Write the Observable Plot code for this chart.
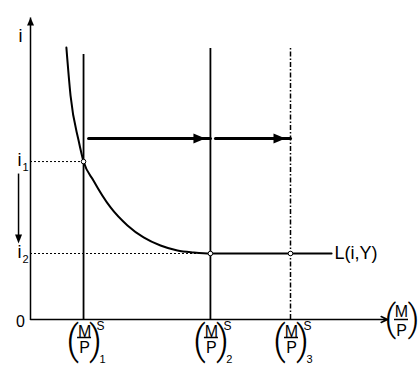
<!DOCTYPE html>
<html>
<head>
<meta charset="utf-8">
<script src="https://cdn.jsdelivr.net/npm/d3@7"></script>
<script src="https://cdn.jsdelivr.net/npm/@observablehq/plot@0.6"></script>
<style>
  html, body { margin: 0; padding: 0; background: white; }
</style>
</head>
<body>
<div id="chart"></div>
<script>
// Real money supply levels (M/P)^S_1, _2, _3
const supplySubs = ["1", "2", "3"];
const moneySupply = [2.04, 6.92, 10.0];
// Interest rates i1, i2
const rateSubs = ["1", "2"];
const rates = [10.53, 4.4];
// Money demand curve L(i,Y)
const curveX = [1.38, 1.54, 1.85, 2.04, 2.42, 3.08, 3.73, 4.35, 5.0, 5.65, 6.27, 6.92, 11.58];
const curveY = [18.13, 14.93, 11.93, 10.53, 9.27, 7.47, 6.27, 5.47, 4.93, 4.6, 4.47, 4.4, 4.4];
const curveLabel = "L(i,Y)";
// axis extents
const xMax = 13.73, yMax = 20.13;
const shiftLevel = 12.07;          // height of the shift arrows
const lineTops = [17.67, 18.07, 18.07];

const curve = curveX.map((x, i) => ({x, y: curveY[i]}));
const shifts = [{from: moneySupply[0], to: moneySupply[1], inEnd: 5}, {from: moneySupply[1], to: moneySupply[2], inEnd: 3}];
const font = "Liberation Sans, Arial, Helvetica, sans-serif";
const parenFont = "Roboto, Liberation Sans, sans-serif";

// filled arrowheads as custom symbols; the tip sits on the dot's position
function head(dir, h, w) {
  return {draw(ctx) {
    const pts = {
      right: [[0, 0], [-h, -w / 2], [-h, w / 2]],
      up: [[0, 0], [-w / 2, h], [w / 2, h]],
      down: [[0, 0], [-w / 2, -h], [w / 2, -h]]
    }[dir];
    ctx.moveTo(...pts[0]); ctx.lineTo(...pts[1]); ctx.lineTo(...pts[2]); ctx.closePath();
  }};
}

function fracLabel(xs, ys, subs, sup, o) {
  const data = xs.map((x, i) => ({x, y: ys[i], sub: subs ? subs[i] : ""}));
  const marks = [
    Plot.text(data, {x: "x", y: "y", text: () => "(", dx: o.lp, dy: o.pc, fontSize: o.pf, fontFamily: parenFont, fontWeight: 300, lineAnchor: "middle"}),
    Plot.text(data, {x: "x", y: "y", text: () => ")", dx: o.rp, dy: o.pc, fontSize: o.pf, fontFamily: parenFont, fontWeight: 300, lineAnchor: "middle"}),
    Plot.text(data, {x: "x", y: "y", text: () => "M", dx: o.mx, dy: o.my, fontSize: 16, fontFamily: font, lineAnchor: "middle"}),
    Plot.text(data, {x: "x", y: "y", text: () => "P", dx: o.mx, dy: o.py, fontSize: 16, fontFamily: font, lineAnchor: "middle"}),
    Plot.ruleY(data, {y: "y", x1: d => d.x - o.bw, x2: d => d.x + o.bw, dx: o.mx, dy: o.by, strokeWidth: 1.5})
  ];
  if (sup) {
    marks.push(Plot.text(data, {x: "x", y: "y", text: () => "S", dx: o.sx, dy: o.sy, fontSize: 12, fontFamily: font, lineAnchor: "middle"}));
    marks.push(Plot.text(data, {x: "x", y: "y", text: "sub", dx: o.bx, dy: o.bby, fontSize: 11, fontFamily: font, lineAnchor: "middle"}));
  }
  return marks;
}

const chart = Plot.plot({
  width: 419,
  height: 369,
  marginLeft: 30,
  marginRight: 0,
  marginTop: 0,
  marginBottom: 50,
  x: {domain: [0, 389 / 26], axis: null},
  y: {domain: [0, 319 / 15], axis: null},
  style: {background: "white", fontFamily: font, color: "black", overflow: "visible"},
  marks: [
    // dotted guides from the axis
    Plot.ruleY(rates, {y: d => d, x1: 0, x2: (d, i) => moneySupply[i], strokeDasharray: "2,2", strokeWidth: 1}),
    // money supply verticals
    Plot.ruleX(moneySupply.slice(0, 2), {x: d => d, y1: 0, y2: (d, i) => lineTops[i], strokeWidth: 1.8}),
    Plot.ruleX(moneySupply.slice(2), {x: d => d, y1: 0, y2: lineTops[2], strokeWidth: 1.5, strokeDasharray: "5,2,1.5,2"}),
    // money demand curve
    Plot.line(curve, {x: "x", y: "y", strokeWidth: 2, curve: "monotone-x"}),
    // shift arrows: shafts and filled heads
    Plot.arrow(shifts, {x1: "from", x2: "to", y1: shiftLevel, y2: shiftLevel, insetStart: 5, insetEnd: d => d.inEnd + 8, strokeWidth: 3, headLength: 0}),
    Plot.dot(shifts, {x: "to", y: shiftLevel, dx: -5, symbol: head("right", 12, 10), r: 5, fill: "black", stroke: "none"}),
    // axes
    Plot.link([0], {x1: 0, y1: 0, x2: 0, y2: yMax, strokeWidth: 1.5}),
    Plot.dot([0], {x: 0, y: yMax, symbol: head("up", 8, 7), r: 4, fill: "black", stroke: "none"}),
    Plot.arrow([0], {x1: 0, y1: 0, x2: xMax, y2: 0, strokeWidth: 1.5, headLength: 7, headAngle: 50}),
    // falling interest rate arrow
    Plot.link([0], {x1: -0.46, y1: 9.73, x2: -0.46, y2: 5.5, strokeWidth: 1.5}),
    Plot.dot([0], {x: -0.46, y: 5.07, symbol: head("down", 9, 7), r: 4, fill: "black", stroke: "none"}),
    // equilibrium points
    Plot.dot([{x: moneySupply[0], y: rates[0]}, {x: moneySupply[1], y: rates[1]}, {x: moneySupply[2], y: rates[1]}],
      {x: "x", y: "y", r: 2.3, fill: "white", stroke: "black", strokeWidth: 1}),
    // axis labels
    Plot.text([0], {x: 0, y: yMax, text: () => "i", dx: -10, dy: 19, fontSize: 18, lineAnchor: "middle"}),
    Plot.text([0], {x: 0, y: 0, text: () => "0", dx: -10, dy: 2, fontSize: 16, lineAnchor: "middle"}),
    Plot.text(rates, {x: 0, y: d => d, text: () => "i", dx: -11, dy: -1, fontSize: 18, lineAnchor: "middle"}),
    Plot.text(rates, {x: 0, y: d => d, text: (d, i) => rateSubs[i], dx: -5, dy: 6, fontSize: 11, lineAnchor: "middle"}),
    Plot.text([curveLabel], {x: curveX[curveX.length - 1], y: curveY[curveY.length - 1], text: d => d, dx: 3, dy: 0, fontSize: 18, textAnchor: "start", lineAnchor: "middle"}),
    ...fracLabel(moneySupply, moneySupply.map(() => 0), supplySubs, true,
      {lp: -11, rp: 12, pc: 22, pf: 40, mx: 1, my: 12, py: 28, bw: 7 / 26, by: 18, sx: 17, sy: 7, bx: 19, bby: 40}),
    ...fracLabel([xMax], [0], null, false,
      {lp: 3, rp: 26, pc: 0, pf: 37, mx: 14, my: -8, py: 11, bw: 7 / 26, by: 0})
  ]
});
document.getElementById("chart").appendChild(chart);
</script>
</body>
</html>
